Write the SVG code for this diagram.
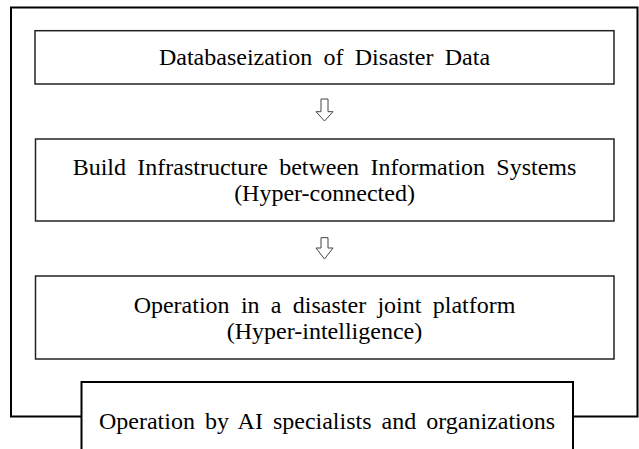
<svg xmlns="http://www.w3.org/2000/svg" width="639" height="449" viewBox="0 0 639 449">
<style>
.box{fill:#fff;stroke:#222;stroke-width:1.5}
.bbox{fill:#fff;stroke:#000;stroke-width:2}
.frame{fill:none;stroke:#000;stroke-width:2}
.arr{fill:#fff;stroke:#444;stroke-width:1}
text{font-family:"Liberation Serif","Times New Roman",serif;font-size:24px;fill:#000;text-anchor:middle;word-spacing:5.3px}
</style>
<rect width="639" height="449" fill="#fff"/>
<g id="connectors">
<path class="frame" d="M81.5 416.5 H11 V7.5 H637.5 V416.5 H573"/>
<path class="arr" d="M321 99 H328 V111.7 H333 L324.5 121 L316 111.7 H321 Z"/>
<path class="arr" d="M321 237.7 H328 V248 H333 L324.5 259 L316 248 H321 Z"/>
</g>
<g id="node1">
<rect class="box" x="35" y="30.7" width="579" height="53.3"/>
<text x="324.5" y="65">Databaseization of Disaster Data</text>
</g>
<g id="node2">
<rect class="box" x="35.5" y="139" width="578.5" height="82"/>
<text x="324.5" y="175">Build Infrastructure between Information Systems</text>
<text x="324.5" y="201">(Hyper-connected)</text>
</g>
<g id="node3">
<rect class="box" x="35.5" y="276" width="578.5" height="83"/>
<text x="324.5" y="313">Operation in a disaster joint platform</text>
<text x="324.5" y="339">(Hyper-intelligence)</text>
</g>
<g id="node4">
<rect class="bbox" x="81.5" y="382" width="491.5" height="80"/>
<text x="327" y="429" style="word-spacing:4px">Operation by AI specialists and organizations</text>
</g>
</svg>
